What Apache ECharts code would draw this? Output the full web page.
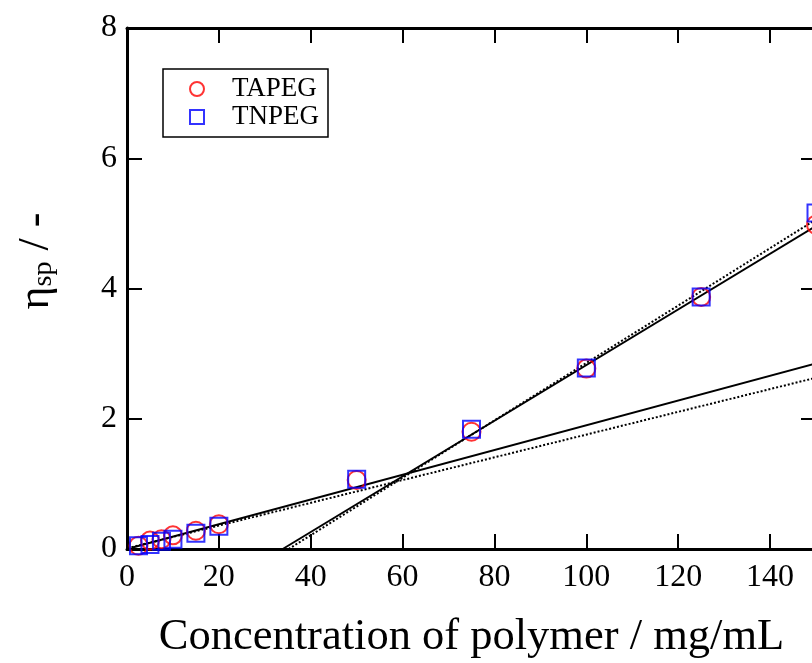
<!DOCTYPE html>
<html>
<head>
<meta charset="utf-8">
<script src="https://cdn.jsdelivr.net/npm/echarts@6/dist/echarts.min.js"></script>
<style>
html,body{margin:0;padding:0;background:#fff;}
#chart{width:812px;height:663px;}
</style>
</head>
<body>
<div id="chart"></div>
<script>
// ---- data ----
var concentration = [2.5, 5, 7.5, 10, 15, 20, 50, 75, 100, 125, 150];
var tapeg = [0.05, 0.13, 0.15, 0.21, 0.28, 0.38, 1.06, 1.80, 2.77, 3.87, 4.98];
var tnpeg = [0.05, 0.07, 0.12, 0.15, 0.24, 0.35, 1.07, 1.84, 2.78, 3.87, 5.16];
// fit lines: [x, y] endpoints
var fitLowSolid = [[1, 0.019], [150, 2.85]];
var fitLowDotted = [[1, 0.028], [150, 2.63]];
var fitHighSolid = [[33.9, 0], [150, 4.96]];
var fitHighDotted = [[35.2, 0], [150, 5.06]];
var xTicks = [0, 20, 40, 60, 80, 100, 120, 140];
var yTicks = [0, 2, 4, 6, 8];
var seriesNames = ['TAPEG', 'TNPEG'];

var FONT = "'Liberation Serif', 'Times New Roman', serif";
function pairs(xs, ys) { return xs.map(function (x, i) { return [x, ys[i]]; }); }

var chart = echarts.init(document.getElementById('chart'), null, {renderer: 'canvas'});
var axisLine = {show: true, onZero: false, lineStyle: {color: '#000', width: 3}};
var tick = {show: true, inside: true, length: 15, lineStyle: {color: '#000', width: 2}};

chart.setOption({
  animation: false,
  backgroundColor: '#fff',
  grid: {left: 127, top: 28, right: -4, bottom: 114, containLabel: false, outerBoundsMode: 'none'},
  xAxis: [{
    type: 'value', min: 0, max: 150, interval: 20, position: 'bottom',
    axisLine: axisLine,
    axisTick: Object.assign({customValues: xTicks}, tick),
    axisLabel: {customValues: xTicks, color: '#000', fontFamily: FONT, fontSize: 32, margin: 13},
    splitLine: {show: false},
    name: 'Concentration of polymer / mg/mL', nameLocation: 'middle', nameGap: 66,
    nameTextStyle: {color: '#000', fontFamily: FONT, fontSize: 44.5}
  }, {
    type: 'value', min: 0, max: 150, interval: 20, position: 'top',
    axisLine: axisLine,
    axisTick: Object.assign({customValues: xTicks}, tick),
    axisLabel: {show: false}, splitLine: {show: false}
  }],
  yAxis: [{
    type: 'value', min: 0, max: 8, interval: 2, position: 'left',
    axisLine: axisLine,
    axisTick: Object.assign({customValues: yTicks}, tick),
    axisLabel: {customValues: yTicks, color: '#000', fontFamily: FONT, fontSize: 32, margin: 10},
    splitLine: {show: false}
  }, {
    type: 'value', min: 0, max: 8, interval: 2, position: 'right',
    axisLine: axisLine,
    axisTick: Object.assign({customValues: yTicks}, tick),
    axisLabel: {show: false}, splitLine: {show: false}
  }],
  legend: {
    data: seriesNames,
    orient: 'vertical', left: 163, top: 69,
    padding: [6, 9, 6, 26],
    itemGap: 0, itemWidth: 14, itemHeight: 14,
    borderColor: '#000', borderWidth: 1.5, borderRadius: 0,
    backgroundColor: '#fff',
    textStyle: {color: '#000', fontFamily: FONT, fontSize: 27, lineHeight: 28, padding: [0, 0, 0, 23]}
  },
  graphic: [{
    type: 'text', x: 36, y: 261, rotation: Math.PI / 2,
    style: {
      text: '{e|η}{s|sp}{e| / -}',
      align: 'center', verticalAlign: 'middle',
      fill: '#000',
      rich: {
        e: {fontFamily: FONT, fontSize: 44, lineHeight: 44, fill: '#000'},
        s: {fontFamily: FONT, fontSize: 28, lineHeight: 30, verticalAlign: 'bottom', fill: '#000'}
      }
    }
  }],
  series: [
    {type: 'line', data: fitLowSolid, symbol: 'none', silent: true, lineStyle: {color: '#000', width: 2, type: 'solid'}, z: 2},
    {type: 'line', data: fitLowDotted, symbol: 'none', silent: true, lineStyle: {color: '#000', width: 2, type: [2, 2]}, z: 2},
    {type: 'line', data: fitHighSolid, symbol: 'none', silent: true, lineStyle: {color: '#000', width: 2, type: 'solid'}, z: 2},
    {type: 'line', data: fitHighDotted, symbol: 'none', silent: true, lineStyle: {color: '#000', width: 2, type: [2, 2]}, z: 2},
    {name: 'TAPEG', type: 'scatter', data: pairs(concentration, tapeg), symbol: 'circle', symbolSize: 18,
     itemStyle: {color: 'rgba(0,0,0,0)', borderColor: '#ff0000', borderWidth: 2}, z: 3},
    {name: 'TNPEG', type: 'scatter', data: pairs(concentration, tnpeg), symbol: 'rect', symbolSize: 17,
     itemStyle: {color: 'rgba(0,0,0,0)', borderColor: '#0000ff', borderWidth: 2}, z: 3}
  ]
});
</script>
</body>
</html>
